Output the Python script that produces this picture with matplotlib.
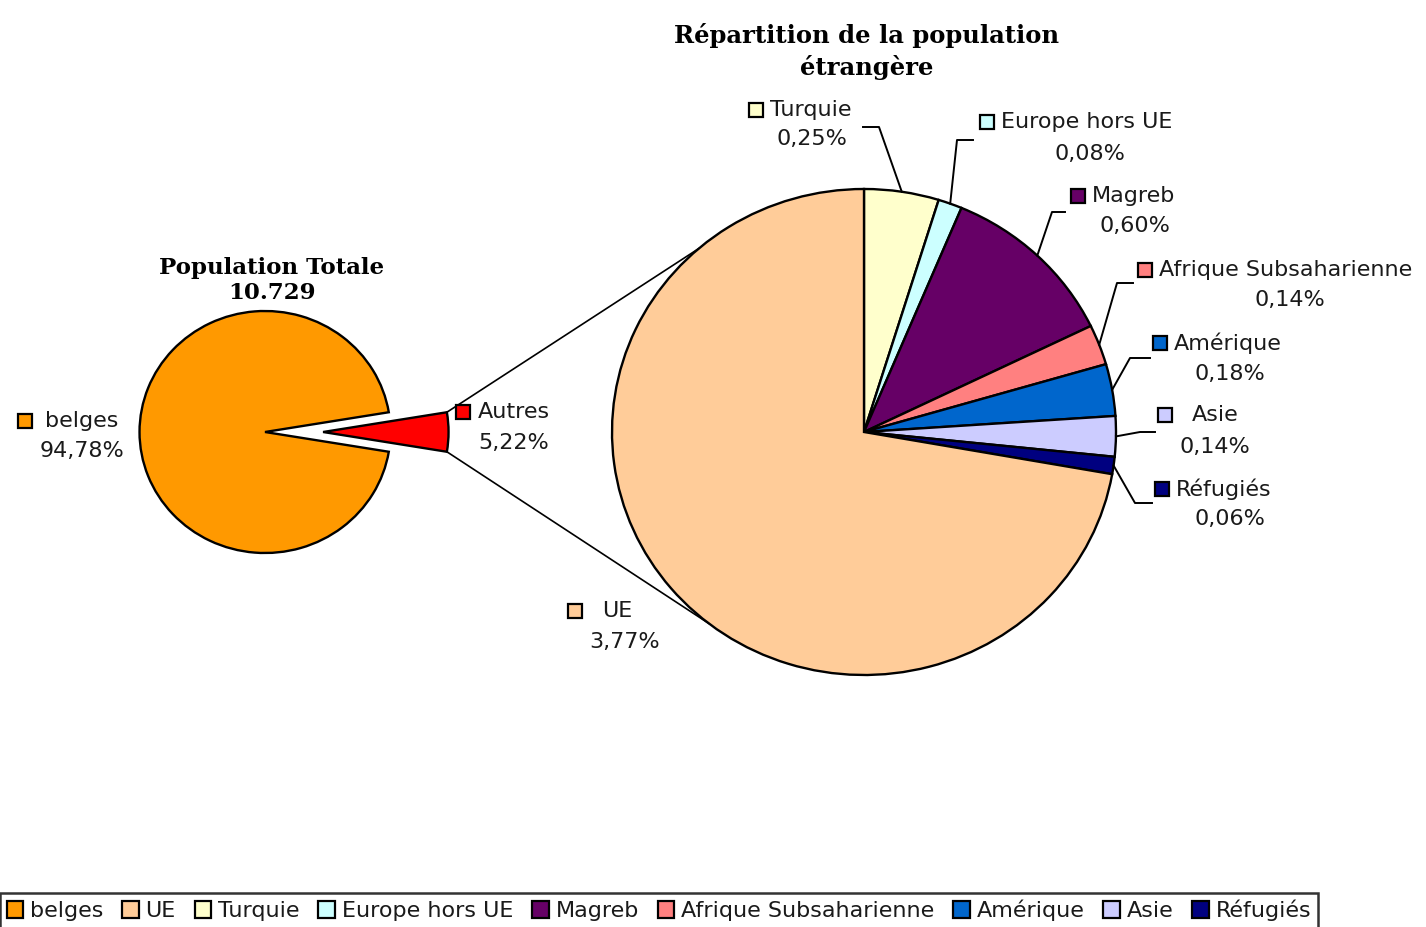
import numpy as np
import matplotlib
matplotlib.use("Agg")
import matplotlib.pyplot as plt
from matplotlib.patches import Rectangle, Patch

# --- data ---
total_labels = ["Autres", "belges"]
total_values = [5.22, 94.78]
total_colors = ["#FF0000", "#FF9900"]

etr_labels = ["Turquie", "Europe hors UE", "Magreb", "Afrique Subsaharienne",
              "Amérique", "Asie", "Réfugiés", "UE"]
etr_values = [0.25, 0.08, 0.60, 0.14, 0.18, 0.14, 0.06, 3.77]
etr_colors = ["#FFFFCC", "#CCFFFF", "#660066", "#FF8080",
              "#0066CC", "#CCCCFF", "#000080", "#FFCC99"]

legend_labels = ["belges", "UE", "Turquie", "Europe hors UE", "Magreb",
                 "Afrique Subsaharienne", "Amérique", "Asie", "Réfugiés"]

W, H = 1426, 927
S = 1.037  # original picture is a bit stretched sideways


def P(x, y):
    # pixel position in the reference -> data coords
    return x / S, H - y


def pct(v):
    return f"{v:.2f}%".replace(".", ",")


fig = plt.figure(figsize=(W / 100, H / 100), dpi=100)
ax = fig.add_axes([0, 0, 1, 1])

edge = dict(edgecolor="black", linewidth=1.7)

# left pie: total population, "Autres" pulled out to the right
c1 = P(265, 432)
r1 = 121
half = total_values[0] / sum(total_values) * 180
w1, _ = ax.pie(total_values, colors=total_colors, center=c1, radius=r1,
               startangle=-half, wedgeprops=edge, frame=True)
w1[0].set_center((c1[0] + 56, c1[1]))

# right pie: foreign population
c2 = P(864, 432)
r2 = 243
w2, _ = ax.pie(etr_values, colors=etr_colors, center=c2, radius=r2,
               startangle=90, counterclock=False, wedgeprops=edge, frame=True)

ax.set_aspect("auto")
ax.set_xlim(0, W / S)
ax.set_ylim(0, H)
ax.axis("off")

# connector lines between the two pies
wc = w1[0].center
for a_small, a_big in [(half, 131), (-half, 232)]:
    p0 = (wc[0] + r1 * np.cos(np.radians(a_small)), wc[1] + r1 * np.sin(np.radians(a_small)))
    p1 = (c2[0] + r2 * np.cos(np.radians(a_big)), c2[1] + r2 * np.sin(np.radians(a_big)))
    ax.plot([p0[0], p1[0]], [p0[1], p1[1]], color="black", lw=1.2, zorder=0.5)

FS = 16
TXT = "#1a1a1a"


def label(name, value, color, mx, y1, vx, y2, gap=21):
    ax.add_patch(Rectangle(P(mx, y1 + 7), 14 / S, 14, facecolor=color,
                           edgecolor="black", lw=1.6, zorder=3))
    ax.text(*P(mx + gap, y1), name, ha="left", va="center", fontsize=FS, color=TXT)
    ax.text(*P(vx, y2), pct(value), ha="center", va="center", fontsize=FS, color=TXT)


# left pie labels
label("belges", total_values[1], total_colors[1], 18, 421, 82, 451, gap=27)
label("Autres", total_values[0], total_colors[0], 456, 412, 514, 443, gap=22)

# right pie labels: marker x, line1 y, value x, value y, leader anchor, elbow
lab_pos = {
    "Turquie": (749, 110, 812, 139, (863, 127), (879, 127)),
    "Europe hors UE": (980, 122, 1090, 154, (973, 140), (957, 140)),
    "Magreb": (1071, 196, 1135, 226, (1065, 212), (1052, 212)),
    "Afrique Subsaharienne": (1138, 270, 1290, 300, (1133, 283), (1117, 283)),
    "Amérique": (1153, 343, 1230, 374, (1150, 358), (1130, 358)),
    "Asie": (1158, 415, 1215, 447, (1155, 432), (1140, 432)),
    "Réfugiés": (1155, 489, 1230, 519, (1152, 503), (1135, 503)),
    "UE": (568, 611, 625, 642, None, None),
}

for w, name, val, col in zip(w2, etr_labels, etr_values, etr_colors):
    mx, y1, vx, y2, anchor, elbow = lab_pos[name]
    gap = 34 if name in ("Asie", "UE") else 21
    label(name, val, col, mx, y1, vx, y2, gap=gap)
    if anchor is not None:
        tm = np.radians((w.theta1 + w.theta2) / 2)
        pe = (c2[0] + r2 * np.cos(tm), c2[1] + r2 * np.sin(tm))
        pa, pb = P(*anchor), P(*elbow)
        ax.plot([pa[0], pb[0], pe[0]], [pa[1], pb[1], pe[1]], color="black", lw=1.4, zorder=3)

# titles
ttl = dict(ha="center", va="center", fontweight="bold", family="DejaVu Serif")
ax.text(*P(867, 35), "Répartition de la population", fontsize=17.5, **ttl)
ax.text(*P(867, 67), "étrangère", fontsize=17.5, **ttl)
ax.text(*P(272, 268), "Population Totale", fontsize=16.5, **ttl)
t = ax.text(*P(272, 293), "10.729", fontsize=16.5, **ttl)
t.set_clip_path(Rectangle((0, H - 298), W / S, 298, transform=ax.transData))

# legend
col_map = dict(zip(etr_labels, etr_colors))
col_map["belges"] = total_colors[1]
handles = [Patch(facecolor=col_map[n], edgecolor="black", lw=1.6) for n in legend_labels]
leg = fig.legend(handles, legend_labels, loc="upper left", ncol=len(legend_labels),
                 bbox_to_anchor=(0.0, 1 - 893 / H), borderaxespad=0, fontsize=FS,
                 frameon=True, fancybox=False, edgecolor="black",
                 handlelength=0.75, handleheight=0.75, handletextpad=0.3,
                 columnspacing=0.85, borderpad=0.3)
leg.get_frame().set_linewidth(1.8)
for txt in leg.get_texts():
    txt.set_color(TXT)

fig.savefig("out.png", dpi=100, facecolor="white")
